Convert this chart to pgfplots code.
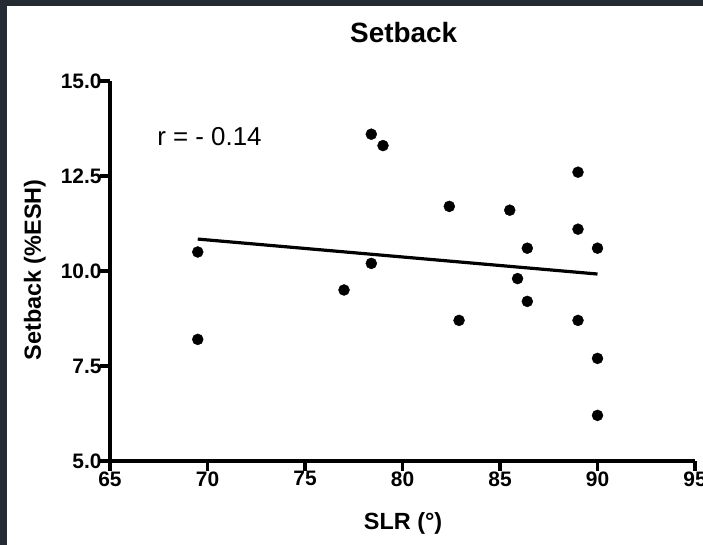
\documentclass[border=0pt]{standalone}
\usepackage{fontspec}
\setmainfont{Liberation Sans}
\usepackage{pgfplots}
\pgfplotsset{compat=1.18}
\definecolor{frame}{HTML}{252B33}
\newcommand\tlfont{\fontsize{21}{21}\selectfont\bfseries}
\begin{document}
\begin{tikzpicture}[x=1bp,y=1bp]
\path[use as bounding box] (0,0) rectangle (703,545);
\fill[frame] (0,0) rectangle (703,545);
\fill[white] (7,0) rectangle (703,539);
\begin{axis}[
  at={(110bp,84bp)}, anchor=south west,
  scale only axis, width=585bp, height=380bp,
  xmin=65, xmax=95, ymin=5, ymax=15,
  axis lines=left,
  axis line style={line width=4bp,-},
  every tick/.style={line width=3.6bp,black},
  tick align=outside, major tick length=10bp,
  xtick={65,70,...,95}, ytick={5,7.5,10,12.5,15},
  xticklabels={65,70,75,80,85,90,95},
  yticklabels={5.0,7.5,10.0,12.5,15.0},
  yticklabel style={font=\tlfont, xshift=5bp},
  xticklabel style={font=\tlfont, yshift=3bp},
  title={Setback},
  title style={font=\fontsize{28}{28}\selectfont\bfseries, at={(axis description cs:0.502,1.111)}, anchor=center},
  xlabel={SLR (°)},
  xlabel style={font=\fontsize{23.5}{23.5}\selectfont\bfseries, at={(axis description cs:0.501,-0.165)}, anchor=center},
  ylabel={Setback (\%ESH)},
  ylabel style={font=\fontsize{23.5}{23.5}\selectfont\bfseries, at={(axis description cs:-0.1285,0.503)}, anchor=center, rotate=0},
  clip=false,
]
\addplot[only marks, mark=*, mark size=5.5bp, black] coordinates {
(69.5,10.5) (69.5,8.2) (77.0,9.5) (78.4,13.6) (79.0,13.3) (78.4,10.2)
(82.9,8.7) (82.4,11.7) (85.5,11.6) (86.4,10.6) (85.9,9.8) (86.4,9.2)
(89.0,12.6) (89.0,11.1) (90.0,10.6) (89.0,8.7) (90.0,7.7) (90.0,6.2)
};
\addplot[black, line width=3.2bp] coordinates {(69.5,10.84) (90,9.92)};
\node[font=\fontsize{26}{26}\selectfont] at (axis cs:70.1,13.53) {r = - 0.14};
\end{axis}
\end{tikzpicture}
\end{document}
